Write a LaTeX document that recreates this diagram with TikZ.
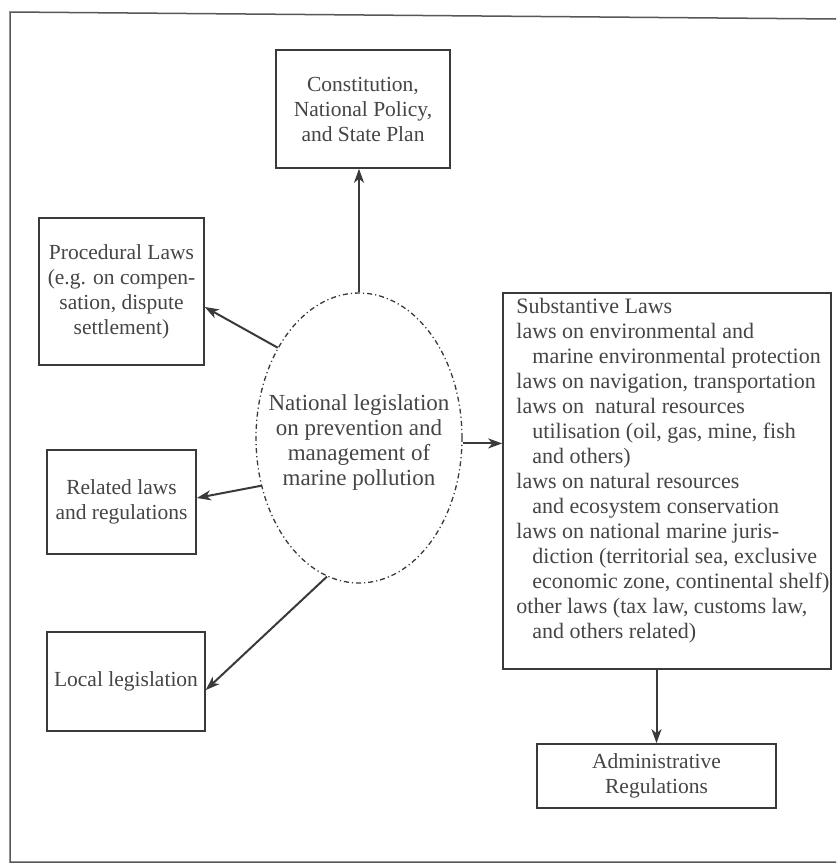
\documentclass[tikz,border=0pt]{standalone}
\usepackage{fontspec}
\setmainfont{Liberation Serif}
\usetikzlibrary{arrows.meta,shapes.geometric}
\definecolor{ink}{HTML}{3A3A3A}
\definecolor{txt}{HTML}{454545}
\begin{document}
\begin{tikzpicture}[x=1pt,y=-1pt,
  box/.style={draw=ink, line width=1.6pt, rectangle, inner sep=0pt, align=center, text=txt, font=\fontsize{21.5}{25}\selectfont},
  arr/.style={draw=ink, line width=2pt, -{Stealth[length=14pt,width=10pt,inset=4pt]}},
  plain/.style={inner sep=0pt, text=txt},
]
\useasboundingbox (0,0) rectangle (836,865);
\fill[white] (0,0) rectangle (836,865);
\draw[ink!85, line width=1.5pt] (836,19) -- (10,12) -- (10,862) -- (836,862);

\node[box, minimum width=174pt, minimum height=118pt] (const) at (363,109) {Constitution,\\National Policy,\\and State Plan};
\node[box, minimum width=165pt, minimum height=147pt] (proc) at (121.5,291.5) {Procedural Laws\\(e.g. on compen-\\sation, dispute\\settlement)};
\node[box, minimum width=149pt, minimum height=104pt] (rel) at (121.5,502) {Related laws\\and regulations};
\node[box, minimum width=158pt, minimum height=99pt] (loc) at (126,681.5) {Local legislation};
\node[box, minimum width=328pt, minimum height=376pt] (subst) at (667,481) {};
\node[plain, anchor=north west, align=left, font=\fontsize{22}{25}\selectfont] (substtext) at ([xshift=14pt,yshift=-6pt]subst.north west)
 {Substantive Laws\\
  laws on environmental and\\
  \hspace*{16pt}marine environmental protection\\
  laws on navigation, transportation\\
  laws on\ \ natural resources\\
  \hspace*{16pt}utilisation (oil, gas, mine, fish\\
  \hspace*{16pt}and others)\\
  laws on natural resources\\
  \hspace*{16pt}and ecosystem conservation\\
  laws on national marine juris-\\
  \hspace*{16pt}diction (territorial sea, exclusive\\
  \hspace*{16pt}economic zone, continental shelf)\\
  other laws (tax law, customs law,\\
  \hspace*{16pt}and others related)};
\node[box, minimum width=239pt, minimum height=64pt] (adm) at (656.5,776) {Administrative\\Regulations};
\node[ellipse, draw=ink, line width=1.3pt, dash pattern=on 5pt off 3pt on 1.2pt off 3pt, minimum width=206pt, minimum height=290pt, inner sep=0pt] (ell) at (359,438) {};
\node[plain, align=center, font=\fontsize{23}{25}\selectfont] (elltext) at ([yshift=-4pt]ell.center) {National legislation\\on prevention and\\management of\\marine pollution};

\draw[arr] (ell.north) -- (ell.north |- const.south);
\draw[arr] (ell.132) -- ([yshift=-15.5pt]proc.east);
\draw[arr] (ell.206) -- ([yshift=4pt]rel.east);
\draw[arr] (ell.257) -- ([yshift=-8.5pt]loc.east);
\draw[arr] (ell.-3) -- (ell.-3 -| subst.west);
\draw[arr] (adm.north |- subst.south) -- (adm.north);
\end{tikzpicture}
\end{document}
